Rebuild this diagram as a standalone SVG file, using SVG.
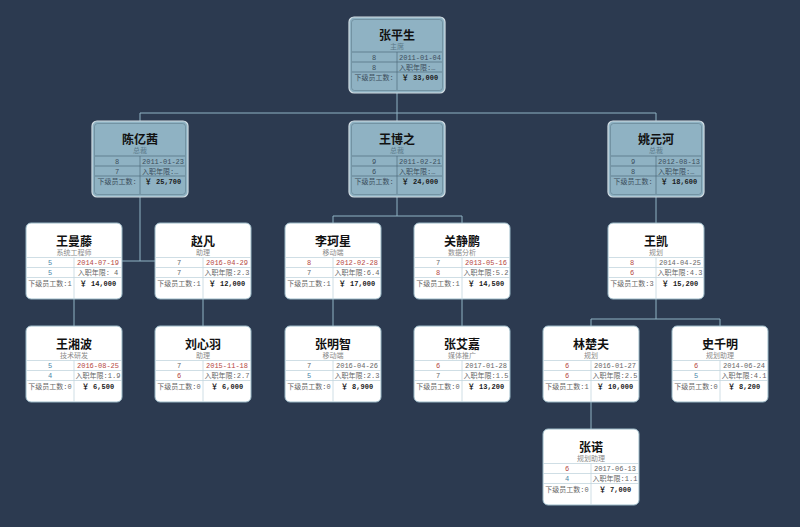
<svg xmlns="http://www.w3.org/2000/svg" width="800" height="527" viewBox="0 0 800 527">
<style>
.bg{fill:#2c3a50}
.conn path{fill:none;stroke:#8fb3c4;stroke-width:1}
.bc{fill:#8fb2c3;stroke:#d3dee4;stroke-width:1.2}
.bi{fill:none;stroke:#5f7d8d;stroke-width:0.6}
.bl{stroke:#4f6b7b;stroke-width:0.7}
.wc{fill:#ffffff;stroke:#9ab8c6;stroke-width:1}
.wl{stroke:#c3d5de;stroke-width:0.8}
.t{font-family:"Noto Sans CJK SC","Liberation Sans",sans-serif;font-size:12px;font-weight:bold;fill:#111;text-anchor:middle}
.s{font-family:"Liberation Serif","Noto Sans CJK SC",serif;font-size:7px;text-anchor:middle}
.sb{fill:#5c7a8a}
.sw{fill:#8a8a8a}
.c{font-family:"Liberation Mono","Noto Sans CJK SC",monospace;font-size:7px;text-anchor:middle}
.cl{font-family:"Liberation Mono","Noto Sans CJK SC",monospace;font-size:7px;text-anchor:start}
.m{font-family:"Liberation Mono","Noto Sans CJK SC",monospace;font-size:7px;font-weight:bold;text-anchor:middle;fill:#1a1a1a}
.kb{fill:#3b4e5c}
.g{fill:#666}
.r{fill:#b5483f}
.u{fill:#4a86a8}
</style>
<rect class="bg" x="0" y="0" width="800" height="527"/>
<g id="connectors" class="conn">
<path d="M397 93V113M140 113H656M140 113V121M397 113V121M656 113V121"/>
<path d="M140 196V261M122 261H155"/>
<path d="M74 299V326M203 299V326"/>
<path d="M397 196V216M333 216H462M333 216V223M462 216V223"/>
<path d="M333 299V326M462 299V326"/>
<path d="M656 196V223"/>
<path d="M656 299V319M591 319H720M591 319V326M720 319V326"/>
<path d="M591 402V429"/>
</g>

<g id="n1" transform="translate(349,17)">
<rect class="bc" x="0" y="0" width="96" height="76" rx="5"/>
<rect class="bi" x="2.5" y="2.5" width="91" height="71" rx="3"/>
<path class="bl" d="M3 35H93M3 45H93M3 55H93M48 35V73"/>
<text class="t" x="48" y="22.5">张平生</text>
<text class="s sb" x="48" y="32">主席</text>
<text class="c kb" x="25" y="42.5">8</text><text class="c kb" x="71" y="42.5">2011-01-04</text>
<text class="c kb" x="25" y="52.5">8</text><text class="cl kb" x="50" y="52.5">入职年限:…</text>
<text class="c kb" x="25" y="62.5">下级员工数:</text><text class="m" x="71" y="62.5">￥ 33,000</text>
</g>

<g id="n2" transform="translate(92,121)">
<rect class="bc" x="0" y="0" width="96" height="76" rx="5"/>
<rect class="bi" x="2.5" y="2.5" width="91" height="71" rx="3"/>
<path class="bl" d="M3 35H93M3 45H93M3 55H93M48 35V73"/>
<text class="t" x="48" y="22.5">陈亿茜</text>
<text class="s sb" x="48" y="32">总裁</text>
<text class="c kb" x="25" y="42.5">8</text><text class="c kb" x="71" y="42.5">2011-01-23</text>
<text class="c kb" x="25" y="52.5">7</text><text class="cl kb" x="50" y="52.5">入职年限:…</text>
<text class="c kb" x="25" y="62.5">下级员工数:</text><text class="m" x="71" y="62.5">￥ 25,700</text>
</g>

<g id="n3" transform="translate(349,121)">
<rect class="bc" x="0" y="0" width="96" height="76" rx="5"/>
<rect class="bi" x="2.5" y="2.5" width="91" height="71" rx="3"/>
<path class="bl" d="M3 35H93M3 45H93M3 55H93M48 35V73"/>
<text class="t" x="48" y="22.5">王博之</text>
<text class="s sb" x="48" y="32">总裁</text>
<text class="c kb" x="25" y="42.5">9</text><text class="c kb" x="71" y="42.5">2011-02-21</text>
<text class="c kb" x="25" y="52.5">6</text><text class="cl kb" x="50" y="52.5">入职年限:…</text>
<text class="c kb" x="25" y="62.5">下级员工数:</text><text class="m" x="71" y="62.5">￥ 24,000</text>
</g>

<g id="n4" transform="translate(608,121)">
<rect class="bc" x="0" y="0" width="96" height="76" rx="5"/>
<rect class="bi" x="2.5" y="2.5" width="91" height="71" rx="3"/>
<path class="bl" d="M3 35H93M3 45H93M3 55H93M48 35V73"/>
<text class="t" x="48" y="22.5">姚元河</text>
<text class="s sb" x="48" y="32">总裁</text>
<text class="c kb" x="25" y="42.5">9</text><text class="c kb" x="71" y="42.5">2012-08-13</text>
<text class="c kb" x="25" y="52.5">8</text><text class="cl kb" x="50" y="52.5">入职年限:…</text>
<text class="c kb" x="25" y="62.5">下级员工数:</text><text class="m" x="71" y="62.5">￥ 18,600</text>
</g>

<g id="n5" transform="translate(26,223)">
<rect class="wc" x="0" y="0" width="96" height="76" rx="5"/>
<path class="wl" d="M0 34.5H96M0 44.5H96M0 54.5H96M48 34.5V76"/>
<text class="t" x="48" y="22.5">王曼藤</text>
<text class="s sw" x="48" y="32">系统工程师</text>
<text class="c u" x="24" y="42">5</text><text class="c r" x="72" y="42">2014-07-19</text>
<text class="c u" x="24" y="52">5</text><text class="c g" x="72" y="52">入职年限:  4</text>
<text class="c g" x="24" y="62.5">下级员工数:1</text><text class="m" x="72" y="62.5">￥ 14,000</text>
</g>

<g id="n6" transform="translate(155,223)">
<rect class="wc" x="0" y="0" width="96" height="76" rx="5"/>
<path class="wl" d="M0 34.5H96M0 44.5H96M0 54.5H96M48 34.5V76"/>
<text class="t" x="48" y="22.5">赵凡</text>
<text class="s sw" x="48" y="32">助理</text>
<text class="c g" x="24" y="42">7</text><text class="c r" x="72" y="42">2016-04-29</text>
<text class="c g" x="24" y="52">7</text><text class="c g" x="72" y="52">入职年限:2.3</text>
<text class="c g" x="24" y="62.5">下级员工数:1</text><text class="m" x="72" y="62.5">￥ 12,000</text>
</g>

<g id="n7" transform="translate(285,223)">
<rect class="wc" x="0" y="0" width="96" height="76" rx="5"/>
<path class="wl" d="M0 34.5H96M0 44.5H96M0 54.5H96M48 34.5V76"/>
<text class="t" x="48" y="22.5">李珂星</text>
<text class="s sw" x="48" y="32">移动端</text>
<text class="c r" x="24" y="42">8</text><text class="c r" x="72" y="42">2012-02-28</text>
<text class="c g" x="24" y="52">7</text><text class="c g" x="72" y="52">入职年限:6.4</text>
<text class="c g" x="24" y="62.5">下级员工数:1</text><text class="m" x="72" y="62.5">￥ 17,000</text>
</g>

<g id="n8" transform="translate(414,223)">
<rect class="wc" x="0" y="0" width="96" height="76" rx="5"/>
<path class="wl" d="M0 34.5H96M0 44.5H96M0 54.5H96M48 34.5V76"/>
<text class="t" x="48" y="22.5">关静鹏</text>
<text class="s sw" x="48" y="32">数据分析</text>
<text class="c g" x="24" y="42">7</text><text class="c r" x="72" y="42">2013-05-16</text>
<text class="c r" x="24" y="52">8</text><text class="c g" x="72" y="52">入职年限:5.2</text>
<text class="c g" x="24" y="62.5">下级员工数:1</text><text class="m" x="72" y="62.5">￥ 14,500</text>
</g>

<g id="n9" transform="translate(608,223)">
<rect class="wc" x="0" y="0" width="96" height="76" rx="5"/>
<path class="wl" d="M0 34.5H96M0 44.5H96M0 54.5H96M48 34.5V76"/>
<text class="t" x="48" y="22.5">王凯</text>
<text class="s sw" x="48" y="32">规划</text>
<text class="c r" x="24" y="42">8</text><text class="c g" x="72" y="42">2014-04-25</text>
<text class="c r" x="24" y="52">6</text><text class="c g" x="72" y="52">入职年限:4.3</text>
<text class="c g" x="24" y="62.5">下级员工数:3</text><text class="m" x="72" y="62.5">￥ 15,200</text>
</g>

<g id="n10" transform="translate(26,326)">
<rect class="wc" x="0" y="0" width="96" height="76" rx="5"/>
<path class="wl" d="M0 34.5H96M0 44.5H96M0 54.5H96M48 34.5V76"/>
<text class="t" x="48" y="22.5">王湘波</text>
<text class="s sw" x="48" y="32">技术研发</text>
<text class="c u" x="24" y="42">5</text><text class="c r" x="72" y="42">2016-08-25</text>
<text class="c u" x="24" y="52">4</text><text class="c g" x="72" y="52">入职年限:1.9</text>
<text class="c g" x="24" y="62.5">下级员工数:0</text><text class="m" x="72" y="62.5">￥ 6,500</text>
</g>

<g id="n11" transform="translate(155,326)">
<rect class="wc" x="0" y="0" width="96" height="76" rx="5"/>
<path class="wl" d="M0 34.5H96M0 44.5H96M0 54.5H96M48 34.5V76"/>
<text class="t" x="48" y="22.5">刘心羽</text>
<text class="s sw" x="48" y="32">助理</text>
<text class="c g" x="24" y="42">7</text><text class="c r" x="72" y="42">2015-11-18</text>
<text class="c r" x="24" y="52">6</text><text class="c g" x="72" y="52">入职年限:2.7</text>
<text class="c g" x="24" y="62.5">下级员工数:0</text><text class="m" x="72" y="62.5">￥ 6,000</text>
</g>

<g id="n12" transform="translate(285,326)">
<rect class="wc" x="0" y="0" width="96" height="76" rx="5"/>
<path class="wl" d="M0 34.5H96M0 44.5H96M0 54.5H96M48 34.5V76"/>
<text class="t" x="48" y="22.5">张明智</text>
<text class="s sw" x="48" y="32">移动端</text>
<text class="c g" x="24" y="42">7</text><text class="c g" x="72" y="42">2016-04-26</text>
<text class="c u" x="24" y="52">5</text><text class="c g" x="72" y="52">入职年限:2.3</text>
<text class="c g" x="24" y="62.5">下级员工数:0</text><text class="m" x="72" y="62.5">￥ 8,900</text>
</g>

<g id="n13" transform="translate(414,326)">
<rect class="wc" x="0" y="0" width="96" height="76" rx="5"/>
<path class="wl" d="M0 34.5H96M0 44.5H96M0 54.5H96M48 34.5V76"/>
<text class="t" x="48" y="22.5">张艾嘉</text>
<text class="s sw" x="48" y="32">媒体推广</text>
<text class="c r" x="24" y="42">6</text><text class="c g" x="72" y="42">2017-01-28</text>
<text class="c g" x="24" y="52">7</text><text class="c g" x="72" y="52">入职年限:1.5</text>
<text class="c g" x="24" y="62.5">下级员工数:0</text><text class="m" x="72" y="62.5">￥ 13,200</text>
</g>

<g id="n14" transform="translate(543,326)">
<rect class="wc" x="0" y="0" width="96" height="76" rx="5"/>
<path class="wl" d="M0 34.5H96M0 44.5H96M0 54.5H96M48 34.5V76"/>
<text class="t" x="48" y="22.5">林楚夫</text>
<text class="s sw" x="48" y="32">规划</text>
<text class="c r" x="24" y="42">6</text><text class="c g" x="72" y="42">2016-01-27</text>
<text class="c r" x="24" y="52">6</text><text class="c g" x="72" y="52">入职年限:2.5</text>
<text class="c g" x="24" y="62.5">下级员工数:1</text><text class="m" x="72" y="62.5">￥ 10,000</text>
</g>

<g id="n15" transform="translate(672,326)">
<rect class="wc" x="0" y="0" width="96" height="76" rx="5"/>
<path class="wl" d="M0 34.5H96M0 44.5H96M0 54.5H96M48 34.5V76"/>
<text class="t" x="48" y="22.5">史千明</text>
<text class="s sw" x="48" y="32">规划助理</text>
<text class="c r" x="24" y="42">6</text><text class="c g" x="72" y="42">2014-06-24</text>
<text class="c u" x="24" y="52">5</text><text class="c g" x="72" y="52">入职年限:4.1</text>
<text class="c g" x="24" y="62.5">下级员工数:0</text><text class="m" x="72" y="62.5">￥ 8,200</text>
</g>

<g id="n16" transform="translate(543,429)">
<rect class="wc" x="0" y="0" width="96" height="76" rx="5"/>
<path class="wl" d="M0 34.5H96M0 44.5H96M0 54.5H96M48 34.5V76"/>
<text class="t" x="48" y="22.5">张诺</text>
<text class="s sw" x="48" y="32">规划助理</text>
<text class="c r" x="24" y="42">6</text><text class="c g" x="72" y="42">2017-06-13</text>
<text class="c u" x="24" y="52">4</text><text class="c g" x="72" y="52">入职年限:1.1</text>
<text class="c g" x="24" y="62.5">下级员工数:0</text><text class="m" x="72" y="62.5">￥ 7,000</text>
</g>
</svg>
